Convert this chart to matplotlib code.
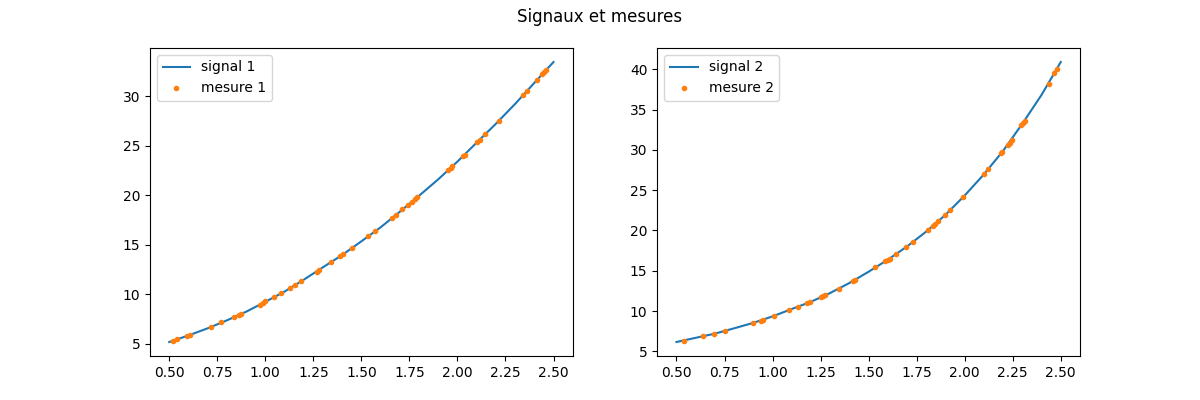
import matplotlib
matplotlib.use("Agg")
import matplotlib.pyplot as plt

# Signal 1 (curve) read at 0.1 steps
sig1_x = [0.5, 0.6, 0.7, 0.8, 0.9, 1.0, 1.1, 1.2, 1.3, 1.4, 1.5, 1.6, 1.7, 1.8, 1.9, 2.0, 2.1, 2.2, 2.3, 2.4, 2.5]
sig1_y = [5.20, 5.86, 6.58, 7.38, 8.25, 9.25, 10.28, 11.48, 12.73, 13.97, 15.35, 16.76, 18.33, 19.94, 21.60, 23.39, 25.30, 27.20, 29.20, 31.32, 33.43]

# Measurements 1
mes1_x = [0.522, 0.543, 0.592, 0.606, 0.715, 0.772, 0.835, 0.861, 0.875, 0.970, 0.986, 0.999,
          1.043, 1.084, 1.130, 1.157, 1.188, 1.268, 1.277, 1.344, 1.391, 1.405, 1.449,
          1.535, 1.572, 1.662, 1.681, 1.714, 1.742, 1.766, 1.780, 1.792, 1.953, 1.966, 1.974,
          2.031, 2.037, 2.104, 2.115, 2.146, 2.217, 2.342, 2.364, 2.416, 2.441, 2.451, 2.463]
mes1_y = [5.30, 5.50, 5.81, 5.91, 6.71, 7.22, 7.72, 7.92, 8.02, 8.90, 9.10, 9.30,
          9.73, 10.10, 10.61, 10.91, 11.34, 12.28, 12.45, 13.26, 13.86, 14.03, 14.64,
          15.85, 16.35, 17.66, 18.02, 18.56, 19.00, 19.33, 19.57, 19.80, 22.52, 22.76, 22.93,
          23.93, 24.10, 25.37, 25.57, 26.15, 27.53, 30.08, 30.55, 31.66, 32.19, 32.43, 32.66]

# Signal 2 (curve) read at 0.1 steps
sig2_x = [0.5, 0.6, 0.7, 0.8, 0.9, 1.0, 1.1, 1.2, 1.3, 1.4, 1.5, 1.6, 1.7, 1.8, 1.9, 2.0, 2.1, 2.2, 2.3, 2.4, 2.5]
sig2_y = [6.15, 6.67, 7.19, 7.85, 8.53, 9.33, 10.25, 11.15, 12.24, 13.48, 14.88, 16.38, 18.02, 19.87, 21.95, 24.35, 26.98, 29.90, 33.27, 36.85, 40.93]

# Measurements 2
mes2_x = [0.538, 0.637, 0.694, 0.751, 0.897, 0.941, 0.951, 1.006, 1.084, 1.131, 1.180, 1.197,
          1.251, 1.260, 1.274, 1.344, 1.421, 1.429, 1.535, 1.587, 1.599, 1.610, 1.641, 1.693,
          1.729, 1.807, 1.833, 1.844, 1.860, 1.898, 1.922, 1.990, 2.099, 2.120, 2.187, 2.194,
          2.223, 2.234, 2.244, 2.295, 2.304, 2.312, 2.437, 2.467, 2.481]
mes2_y = [6.28, 6.90, 7.15, 7.52, 8.51, 8.80, 8.84, 9.38, 10.12, 10.50, 10.99, 11.12,
          11.74, 11.82, 11.95, 12.73, 13.76, 13.88, 15.42, 16.20, 16.33, 16.45, 17.03, 17.90,
          18.52, 20.01, 20.58, 20.80, 21.13, 21.91, 22.49, 24.11, 26.96, 27.58, 29.57, 29.73,
          30.56, 30.88, 31.22, 33.11, 33.41, 33.66, 38.25, 39.57, 40.11]

fig, axes = plt.subplots(1, 2, figsize=(12, 4), dpi=100)
fig.suptitle("Signaux et mesures")

series = [
    (sig1_x, sig1_y, mes1_x, mes1_y, "signal 1", "mesure 1"),
    (sig2_x, sig2_y, mes2_x, mes2_y, "signal 2", "mesure 2"),
]
for ax, (sx, sy, mx, my, ls, lm) in zip(axes, series):
    ax.plot(sx, sy, color="C0", label=ls)
    ax.plot(mx, my, ".", color="C1", label=lm)
    ax.legend(loc="upper left")

fig.savefig("out.png", dpi=100)
